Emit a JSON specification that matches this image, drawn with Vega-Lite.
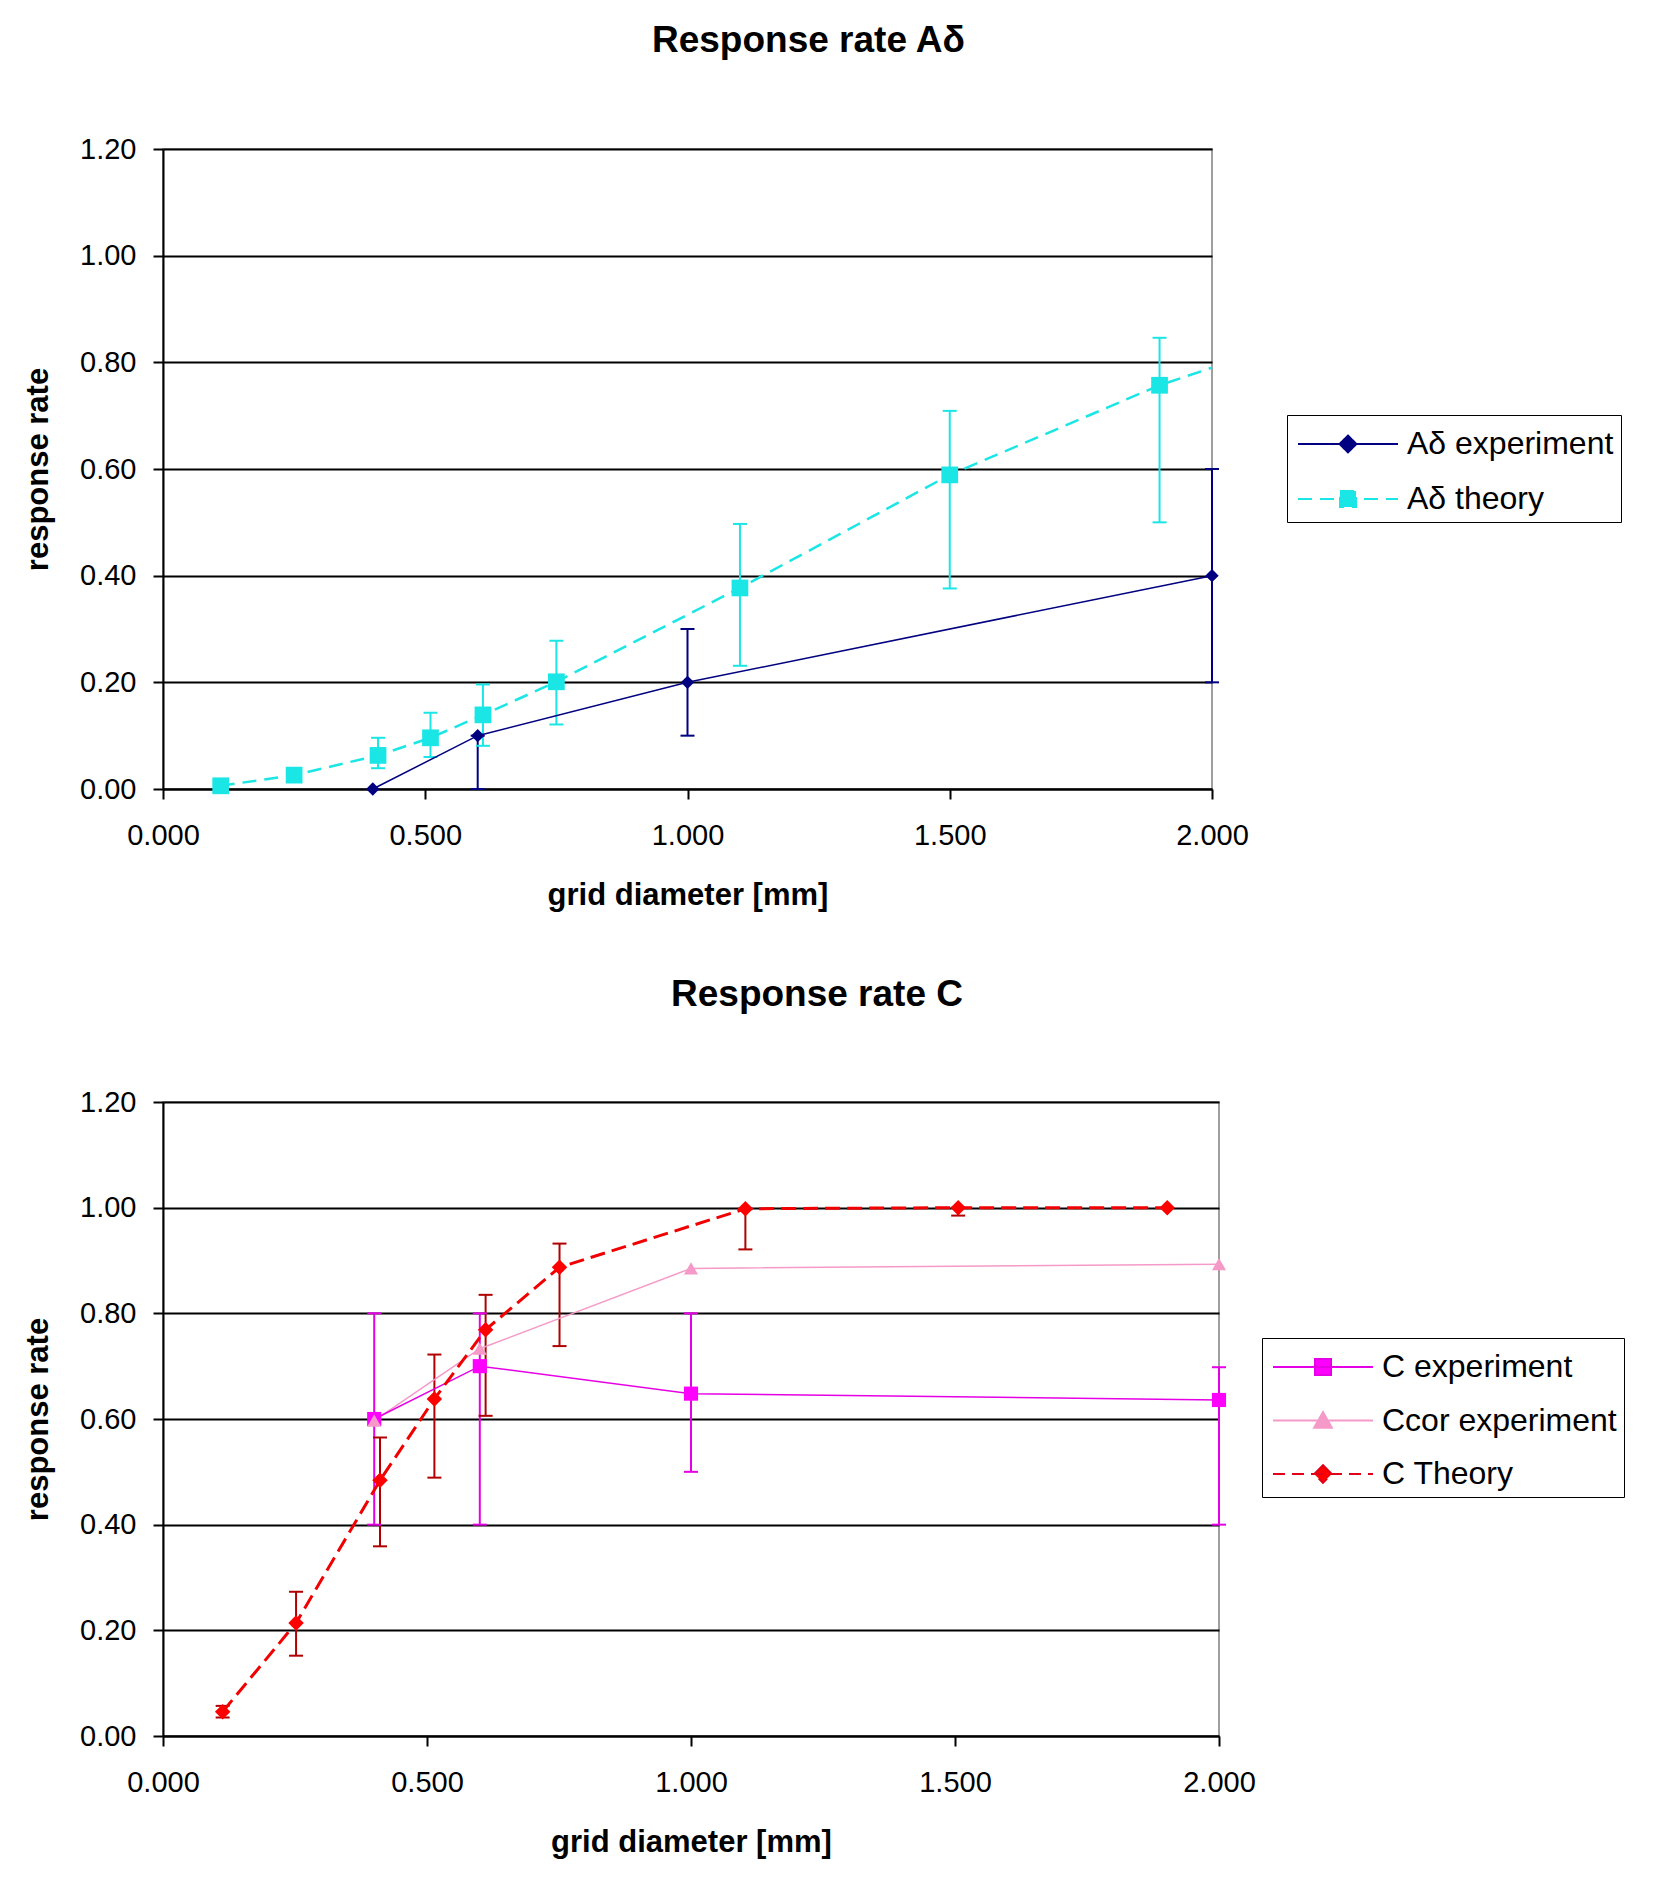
{
  "$schema": "https://vega.github.io/schema/vega-lite/v6.json",
  "background": "white",
  "padding": {"left": 21, "top": 21, "right": 5, "bottom": 5},
  "config": {
    "font": "Liberation Sans",
    "view": {"stroke": "#808080", "strokeWidth": 1.5},
    "axis": {"labelFont": "Liberation Sans", "labelFontSize": 29, "labelColor": "black", "titleFont": "Liberation Sans", "titleFontSize": 31, "titleFontWeight": "bold", "titleColor": "black", "domainColor": "black", "domainWidth": 2, "tickColor": "black", "tickWidth": 2, "tickSize": 10, "gridColor": "black", "gridWidth": 2, "gridOpacity": 1},
    "axisX": {"grid": false, "labelPadding": 22, "titlePadding": 30, "labelFlush": false},
    "axisY": {"grid": true, "labelPadding": 17, "titlePadding": 25},
    "title": {"font": "Liberation Sans", "fontSize": 37, "fontWeight": "bold", "color": "black", "anchor": "middle", "frame": "group"},
    "legend": {"labelFont": "Liberation Sans", "labelFontSize": 32, "labelColor": "black", "labelLimit": 0, "fillColor": "white", "strokeColor": "black", "padding": 7, "symbolSize": 1764, "symbolStrokeWidth": 2, "symbolOffset": 32, "labelOffset": 37, "symbolOpacity": 1}
  },
  "datasets": {
    "ad_pts": [
      {"series": "Aδ experiment", "d": 0.4, "rate": 0.0},
      {"series": "Aδ experiment", "d": 0.6, "rate": 0.1},
      {"series": "Aδ experiment", "d": 1.0, "rate": 0.2},
      {"series": "Aδ experiment", "d": 2.0, "rate": 0.4},
      {"series": "Aδ theory", "d": 0.11, "rate": 0.006},
      {"series": "Aδ theory", "d": 0.25, "rate": 0.026},
      {"series": "Aδ theory", "d": 0.41, "rate": 0.063},
      {"series": "Aδ theory", "d": 0.51, "rate": 0.096},
      {"series": "Aδ theory", "d": 0.61, "rate": 0.139},
      {"series": "Aδ theory", "d": 0.75, "rate": 0.201},
      {"series": "Aδ theory", "d": 1.1, "rate": 0.377},
      {"series": "Aδ theory", "d": 1.5, "rate": 0.589},
      {"series": "Aδ theory", "d": 1.9, "rate": 0.757},
      {"series": "Aδ theory", "d": 2.0, "rate": 0.79}
    ],
    "ad_err": [
      {"series": "Aδ experiment", "d": 0.6, "lo": 0.0, "hi": 0.1},
      {"series": "Aδ experiment", "d": 1.0, "lo": 0.1, "hi": 0.3},
      {"series": "Aδ experiment", "d": 2.0, "lo": 0.2, "hi": 0.6},
      {"series": "Aδ theory", "d": 0.41, "lo": 0.039, "hi": 0.096},
      {"series": "Aδ theory", "d": 0.51, "lo": 0.06, "hi": 0.143},
      {"series": "Aδ theory", "d": 0.61, "lo": 0.081, "hi": 0.196},
      {"series": "Aδ theory", "d": 0.75, "lo": 0.121, "hi": 0.278},
      {"series": "Aδ theory", "d": 1.1, "lo": 0.231, "hi": 0.497},
      {"series": "Aδ theory", "d": 1.5, "lo": 0.376, "hi": 0.709},
      {"series": "Aδ theory", "d": 1.9, "lo": 0.5, "hi": 0.846}
    ],
    "c_pts": [
      {"series": "C experiment", "d": 0.4, "rate": 0.6},
      {"series": "C experiment", "d": 0.6, "rate": 0.7},
      {"series": "C experiment", "d": 1.0, "rate": 0.648},
      {"series": "C experiment", "d": 2.0, "rate": 0.636},
      {"series": "Ccor experiment", "d": 0.4, "rate": 0.597},
      {"series": "Ccor experiment", "d": 0.6, "rate": 0.733},
      {"series": "Ccor experiment", "d": 1.0, "rate": 0.885},
      {"series": "Ccor experiment", "d": 2.0, "rate": 0.893},
      {"series": "C Theory", "d": 0.113, "rate": 0.046},
      {"series": "C Theory", "d": 0.252, "rate": 0.214},
      {"series": "C Theory", "d": 0.411, "rate": 0.484},
      {"series": "C Theory", "d": 0.514, "rate": 0.638},
      {"series": "C Theory", "d": 0.611, "rate": 0.769},
      {"series": "C Theory", "d": 0.751, "rate": 0.887},
      {"series": "C Theory", "d": 1.103, "rate": 0.998},
      {"series": "C Theory", "d": 1.506, "rate": 1.0},
      {"series": "C Theory", "d": 1.902, "rate": 1.0}
    ],
    "c_err": [
      {"series": "C experiment", "d": 0.4, "lo": 0.4, "hi": 0.8},
      {"series": "C experiment", "d": 0.6, "lo": 0.4, "hi": 0.8},
      {"series": "C experiment", "d": 1.0, "lo": 0.5, "hi": 0.8},
      {"series": "C experiment", "d": 2.0, "lo": 0.4, "hi": 0.698},
      {"series": "C Theory", "d": 0.113, "lo": 0.035, "hi": 0.057},
      {"series": "C Theory", "d": 0.252, "lo": 0.152, "hi": 0.273},
      {"series": "C Theory", "d": 0.411, "lo": 0.359, "hi": 0.565},
      {"series": "C Theory", "d": 0.514, "lo": 0.489, "hi": 0.722},
      {"series": "C Theory", "d": 0.611, "lo": 0.606, "hi": 0.835},
      {"series": "C Theory", "d": 0.751, "lo": 0.738, "hi": 0.932},
      {"series": "C Theory", "d": 1.103, "lo": 0.921, "hi": 0.998},
      {"series": "C Theory", "d": 1.506, "lo": 0.985, "hi": 1.0}
    ]
  },
  "columns": 1,
  "align": "none",
  "spacing": 64,
  "resolve": {"scale": {"fill": "independent", "stroke": "independent", "shape": "independent", "strokeDash": "independent"}},
  "concat": [
    {
      "title": {"text": "Response rate Aδ", "dx": 121, "offset": 75},
      "width": 1049,
      "height": 640,
      "encoding": {
        "x": {"field": "d", "type": "quantitative", "scale": {"domain": [0, 2], "nice": false}, "axis": {"title": "grid diameter [mm]", "values": [0, 0.5, 1, 1.5, 2], "format": ".3f"}}
      },
      "layer": [
        {
          "data": {"name": "ad_err"},
          "transform": [{"filter": "datum.series == 'Aδ experiment'"}],
          "mark": {"type": "rule", "strokeWidth": 2, "color": "#000080"},
          "encoding": {
            "y": {"field": "lo", "type": "quantitative", "scale": {"domain": [0, 1.2], "nice": false}, "axis": {"title": "response rate", "values": [0, 0.2, 0.4, 0.6, 0.8, 1, 1.2], "format": ".2f"}},
            "y2": {"field": "hi"}
          }
        },
        {
          "data": {"name": "ad_err"},
          "transform": [{"filter": "datum.series == 'Aδ theory'"}],
          "mark": {"type": "rule", "strokeWidth": 2, "color": "#1AE6E6"},
          "encoding": {
            "y": {"field": "lo", "type": "quantitative", "scale": {"domain": [0, 1.2], "nice": false}, "axis": {"title": "response rate", "values": [0, 0.2, 0.4, 0.6, 0.8, 1, 1.2], "format": ".2f"}},
            "y2": {"field": "hi"}
          }
        },
        {
          "data": {"name": "ad_err"},
          "transform": [{"filter": "datum.series == 'Aδ experiment'"}, {"fold": ["lo", "hi"], "as": ["end", "val"]}],
          "mark": {"type": "tick", "orient": "horizontal", "size": 14, "thickness": 2, "opacity": 1, "color": "#000080"},
          "encoding": {
            "y": {"field": "val", "type": "quantitative", "scale": {"domain": [0, 1.2], "nice": false}, "axis": {"title": "response rate", "values": [0, 0.2, 0.4, 0.6, 0.8, 1, 1.2], "format": ".2f"}}
          }
        },
        {
          "data": {"name": "ad_err"},
          "transform": [{"filter": "datum.series == 'Aδ theory'"}, {"fold": ["lo", "hi"], "as": ["end", "val"]}],
          "mark": {"type": "tick", "orient": "horizontal", "size": 14, "thickness": 2, "opacity": 1, "color": "#1AE6E6"},
          "encoding": {
            "y": {"field": "val", "type": "quantitative", "scale": {"domain": [0, 1.2], "nice": false}, "axis": {"title": "response rate", "values": [0, 0.2, 0.4, 0.6, 0.8, 1, 1.2], "format": ".2f"}}
          }
        },
        {
          "data": {"name": "ad_pts"},
          "transform": [{"filter": "datum.series == 'Aδ theory'"}],
          "mark": {"type": "line", "color": "#1AE6E6", "strokeWidth": 2.5, "strokeDash": [14, 8]},
          "encoding": {
            "y": {"field": "rate", "type": "quantitative", "scale": {"domain": [0, 1.2], "nice": false}, "axis": {"title": "response rate", "values": [0, 0.2, 0.4, 0.6, 0.8, 1, 1.2], "format": ".2f"}}
          }
        },
        {
          "data": {"name": "ad_pts"},
          "transform": [{"filter": "datum.series == 'Aδ experiment'"}],
          "mark": {"type": "line", "color": "#000080", "strokeWidth": 1.5},
          "encoding": {
            "y": {"field": "rate", "type": "quantitative", "scale": {"domain": [0, 1.2], "nice": false}, "axis": {"title": "response rate", "values": [0, 0.2, 0.4, 0.6, 0.8, 1, 1.2], "format": ".2f"}}
          }
        },
        {
          "data": {"name": "ad_pts"},
          "transform": [{"filter": "datum.series == 'Aδ experiment'"}],
          "mark": {"type": "point", "shape": "diamond", "filled": true, "size": 180, "color": "#000080", "opacity": 1},
          "encoding": {
            "y": {"field": "rate", "type": "quantitative", "scale": {"domain": [0, 1.2], "nice": false}, "axis": {"title": "response rate", "values": [0, 0.2, 0.4, 0.6, 0.8, 1, 1.2], "format": ".2f"}}
          }
        },
        {
          "data": {"name": "ad_pts"},
          "transform": [{"filter": "datum.series == 'Aδ theory' && datum.d < 2"}],
          "mark": {"type": "point", "shape": "square", "filled": true, "size": 280, "color": "#1AE6E6", "opacity": 1},
          "encoding": {
            "y": {"field": "rate", "type": "quantitative", "scale": {"domain": [0, 1.2], "nice": false}, "axis": {"title": "response rate", "values": [0, 0.2, 0.4, 0.6, 0.8, 1, 1.2], "format": ".2f"}}
          }
        },
        {
          "data": {"name": "ad_pts"},
          "mark": {"type": "point", "filled": true, "opacity": 0},
          "encoding": {
            "y": {"field": "rate", "type": "quantitative", "scale": {"domain": [0, 1.2], "nice": false}, "axis": {"title": "response rate", "values": [0, 0.2, 0.4, 0.6, 0.8, 1, 1.2], "format": ".2f"}},
            "fill": {"field": "series", "type": "nominal", "scale": {"domain": ["Aδ experiment", "Aδ theory"], "range": ["#000080", "#1AE6E6"]}, "legend": {"orient": "none", "legendX": 1124, "legendY": 266, "title": null, "rowPadding": 17}},
            "stroke": {"field": "series", "type": "nominal", "scale": {"domain": ["Aδ experiment", "Aδ theory"], "range": ["#000080", "#1AE6E6"]}, "legend": {"orient": "none", "legendX": 1124, "legendY": 266, "title": null, "rowPadding": 17}},
            "shape": {"field": "series", "type": "nominal", "scale": {"domain": ["Aδ experiment", "Aδ theory"], "range": ["M-2.38,0H2.38M0,-0.4L0.4,0L0,0.4L-0.4,0Z", "M-2.38,0H2.38M-0.38,-0.38H0.38V0.38H-0.38Z"]}, "legend": {"orient": "none", "legendX": 1124, "legendY": 266, "title": null, "rowPadding": 17}},
            "strokeDash": {"field": "series", "type": "nominal", "scale": {"domain": ["Aδ experiment", "Aδ theory"], "range": [[1, 0], [14, 8]]}, "legend": {"orient": "none", "legendX": 1124, "legendY": 266, "title": null, "rowPadding": 17}}
          }
        }
      ]
    },
    {
      "title": {"text": "Response rate C", "dx": 126, "offset": 74},
      "width": 1056,
      "height": 634,
      "encoding": {
        "x": {"field": "d", "type": "quantitative", "scale": {"domain": [0, 2], "nice": false}, "axis": {"title": "grid diameter [mm]", "values": [0, 0.5, 1, 1.5, 2], "format": ".3f"}}
      },
      "layer": [
        {
          "data": {"name": "c_err"},
          "transform": [{"filter": "datum.series == 'C experiment'"}],
          "mark": {"type": "rule", "strokeWidth": 2, "color": "#E600E6"},
          "encoding": {
            "y": {"field": "lo", "type": "quantitative", "scale": {"domain": [0, 1.2], "nice": false}, "axis": {"title": "response rate", "values": [0, 0.2, 0.4, 0.6, 0.8, 1, 1.2], "format": ".2f"}},
            "y2": {"field": "hi"}
          }
        },
        {
          "data": {"name": "c_err"},
          "transform": [{"filter": "datum.series == 'C Theory'"}],
          "mark": {"type": "rule", "strokeWidth": 2, "color": "#B00000"},
          "encoding": {
            "y": {"field": "lo", "type": "quantitative", "scale": {"domain": [0, 1.2], "nice": false}, "axis": {"title": "response rate", "values": [0, 0.2, 0.4, 0.6, 0.8, 1, 1.2], "format": ".2f"}},
            "y2": {"field": "hi"}
          }
        },
        {
          "data": {"name": "c_err"},
          "transform": [{"filter": "datum.series == 'C experiment'"}, {"fold": ["lo", "hi"], "as": ["end", "val"]}],
          "mark": {"type": "tick", "orient": "horizontal", "size": 14, "thickness": 2, "opacity": 1, "color": "#E600E6"},
          "encoding": {
            "y": {"field": "val", "type": "quantitative", "scale": {"domain": [0, 1.2], "nice": false}, "axis": {"title": "response rate", "values": [0, 0.2, 0.4, 0.6, 0.8, 1, 1.2], "format": ".2f"}}
          }
        },
        {
          "data": {"name": "c_err"},
          "transform": [{"filter": "datum.series == 'C Theory'"}, {"fold": ["lo", "hi"], "as": ["end", "val"]}],
          "mark": {"type": "tick", "orient": "horizontal", "size": 14, "thickness": 2, "opacity": 1, "color": "#B00000"},
          "encoding": {
            "y": {"field": "val", "type": "quantitative", "scale": {"domain": [0, 1.2], "nice": false}, "axis": {"title": "response rate", "values": [0, 0.2, 0.4, 0.6, 0.8, 1, 1.2], "format": ".2f"}}
          }
        },
        {
          "data": {"name": "c_pts"},
          "transform": [{"filter": "datum.series == 'Ccor experiment'"}],
          "mark": {"type": "line", "color": "#F59AC8", "strokeWidth": 1.5},
          "encoding": {
            "y": {"field": "rate", "type": "quantitative", "scale": {"domain": [0, 1.2], "nice": false}, "axis": {"title": "response rate", "values": [0, 0.2, 0.4, 0.6, 0.8, 1, 1.2], "format": ".2f"}}
          }
        },
        {
          "data": {"name": "c_pts"},
          "transform": [{"filter": "datum.series == 'C experiment'"}],
          "mark": {"type": "line", "color": "#E600E6", "strokeWidth": 1.5},
          "encoding": {
            "y": {"field": "rate", "type": "quantitative", "scale": {"domain": [0, 1.2], "nice": false}, "axis": {"title": "response rate", "values": [0, 0.2, 0.4, 0.6, 0.8, 1, 1.2], "format": ".2f"}}
          }
        },
        {
          "data": {"name": "c_pts"},
          "transform": [{"filter": "datum.series == 'C Theory'"}],
          "mark": {"type": "line", "color": "#F00000", "strokeWidth": 3, "strokeDash": [15, 7]},
          "encoding": {
            "y": {"field": "rate", "type": "quantitative", "scale": {"domain": [0, 1.2], "nice": false}, "axis": {"title": "response rate", "values": [0, 0.2, 0.4, 0.6, 0.8, 1, 1.2], "format": ".2f"}}
          }
        },
        {
          "data": {"name": "c_pts"},
          "transform": [{"filter": "datum.series == 'C experiment'"}],
          "mark": {"type": "point", "shape": "square", "filled": true, "size": 200, "color": "#FF00FF", "opacity": 1},
          "encoding": {
            "y": {"field": "rate", "type": "quantitative", "scale": {"domain": [0, 1.2], "nice": false}, "axis": {"title": "response rate", "values": [0, 0.2, 0.4, 0.6, 0.8, 1, 1.2], "format": ".2f"}}
          }
        },
        {
          "data": {"name": "c_pts"},
          "transform": [{"filter": "datum.series == 'Ccor experiment'"}],
          "mark": {"type": "point", "shape": "triangle-up", "filled": true, "size": 200, "color": "#F59AC8", "opacity": 1},
          "encoding": {
            "y": {"field": "rate", "type": "quantitative", "scale": {"domain": [0, 1.2], "nice": false}, "axis": {"title": "response rate", "values": [0, 0.2, 0.4, 0.6, 0.8, 1, 1.2], "format": ".2f"}}
          }
        },
        {
          "data": {"name": "c_pts"},
          "transform": [{"filter": "datum.series == 'C Theory'"}],
          "mark": {"type": "point", "shape": "diamond", "filled": true, "size": 240, "color": "#FF0000", "opacity": 1},
          "encoding": {
            "y": {"field": "rate", "type": "quantitative", "scale": {"domain": [0, 1.2], "nice": false}, "axis": {"title": "response rate", "values": [0, 0.2, 0.4, 0.6, 0.8, 1, 1.2], "format": ".2f"}}
          }
        },
        {
          "data": {"name": "c_pts"},
          "mark": {"type": "point", "filled": true, "opacity": 0},
          "encoding": {
            "y": {"field": "rate", "type": "quantitative", "scale": {"domain": [0, 1.2], "nice": false}, "axis": {"title": "response rate", "values": [0, 0.2, 0.4, 0.6, 0.8, 1, 1.2], "format": ".2f"}},
            "fill": {"field": "series", "type": "nominal", "scale": {"domain": ["C experiment", "Ccor experiment", "C Theory"], "range": ["#FF00FF", "#F59AC8", "#FF0000"]}, "legend": {"orient": "none", "legendX": 1099, "legendY": 236, "title": null, "rowPadding": 15.5}},
            "stroke": {"field": "series", "type": "nominal", "scale": {"domain": ["C experiment", "Ccor experiment", "C Theory"], "range": ["#E600E6", "#F59AC8", "#E0001A"]}, "legend": {"orient": "none", "legendX": 1099, "legendY": 236, "title": null, "rowPadding": 15.5}},
            "shape": {"field": "series", "type": "nominal", "scale": {"domain": ["C experiment", "Ccor experiment", "C Theory"], "range": ["M-2.38,0H2.38M-0.38,-0.38H0.38V0.38H-0.38Z", "M-2.38,0H2.38M0,-0.4L0.42,0.34H-0.42Z", "M-2.38,0H2.38M0,-0.42L0.42,0L0,0.42L-0.42,0Z"]}, "legend": {"orient": "none", "legendX": 1099, "legendY": 236, "title": null, "rowPadding": 15.5}},
            "strokeDash": {"field": "series", "type": "nominal", "scale": {"domain": ["C experiment", "Ccor experiment", "C Theory"], "range": [[1, 0], [1, 0], [12, 7]]}, "legend": {"orient": "none", "legendX": 1099, "legendY": 236, "title": null, "rowPadding": 15.5}}
          }
        }
      ]
    }
  ]
}
